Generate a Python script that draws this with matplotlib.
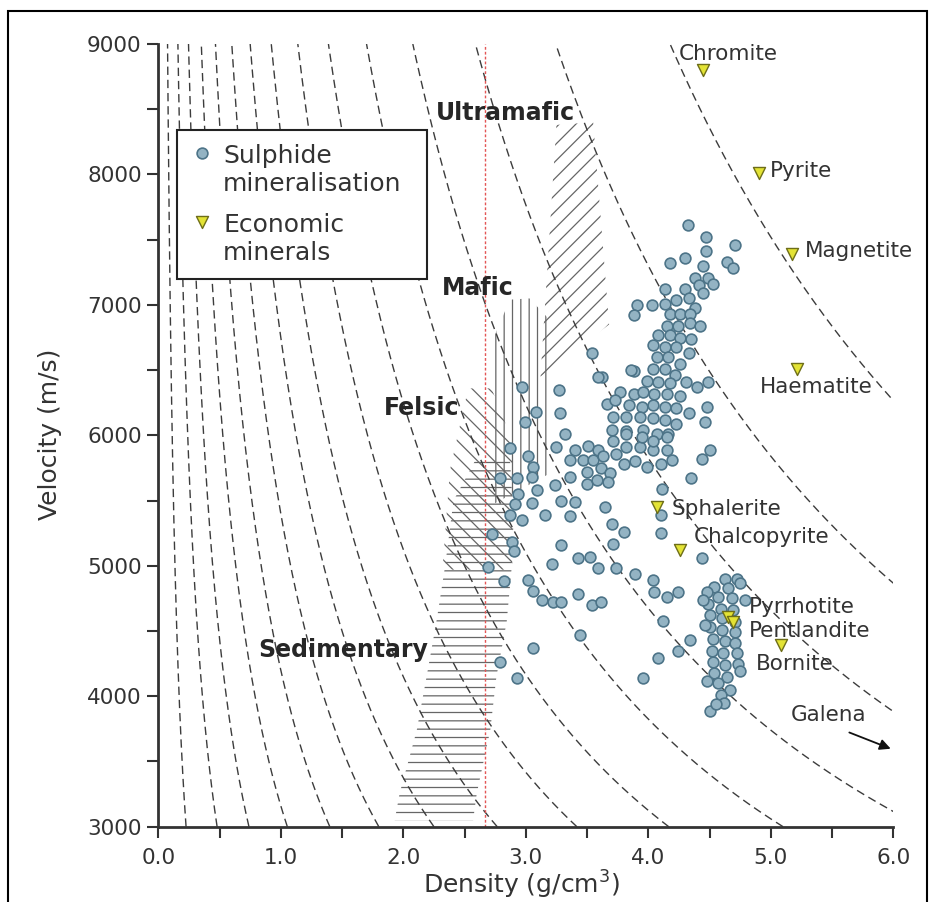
import numpy as np
import matplotlib
matplotlib.use('Agg')
import matplotlib.pyplot as plt
from matplotlib.patches import Polygon, Rectangle
from matplotlib.collections import PathCollection
from matplotlib.legend_handler import HandlerPathCollection

# constant acoustic impedance contours (g/cm3 * km/s)
impedance_levels = [0.68, 1.44, 2.22, 3.16, 4.2, 5.4, 6.75, 8.3, 10.25,
                    12.5, 15.3, 18.7, 23.3, 29.2, 37.6]
crust_density = 2.67

# rock fields (density g/cm3, velocity m/s)
ultramafic_rho = [3.25, 3.55, 3.68, 3.12]
ultramafic_vel = [8380, 8400, 6850, 6450]
mafic_rho = [2.73, 2.87, 3.03, 3.20, 3.20, 2.73]
mafic_vel = [6730, 7040, 7050, 6880, 5710, 5470]
felsic_rho = [2.53, 2.72, 2.89, 2.89, 2.32, 2.38]
felsic_vel = [6360, 6360, 5960, 4970, 4970, 5730]
sedimentary_rho = [2.60, 2.87, 2.90, 2.885, 2.844, 2.76, 2.71, 2.60, 2.57,
                   1.93, 1.97, 2.11, 2.19, 2.27, 2.34, 2.41]
sedimentary_vel = [5830, 5830, 5350, 4990, 4570, 4150, 3740, 3256, 3050,
                   3050, 3256, 3740, 4150, 4570, 4990, 5500]

# sulphide mineralisation samples
sulphide_rho = [
    4.32, 4.47, 4.71, 4.18, 4.30, 4.47, 4.45, 4.64, 4.69, 4.38, 4.49, 4.53, 4.14, 4.30,
    4.41, 4.45, 3.91, 4.03, 3.88, 4.14, 4.23, 4.33, 4.38, 4.18, 4.26, 4.34, 4.15, 4.24,
    4.34, 4.42, 4.08, 4.18, 4.26, 4.35, 4.04, 4.14, 4.23, 4.33, 4.07, 4.16, 4.26, 3.88,
    4.04, 4.14, 4.22, 3.99, 4.08, 4.18, 4.31, 4.40, 4.49, 3.62, 3.77, 3.88, 3.96, 4.05,
    4.15, 4.26, 3.66, 3.73, 3.84, 3.95, 4.04, 4.14, 4.23, 4.33, 4.48, 4.46, 4.23, 3.71,
    3.82, 3.93, 4.04, 4.14, 3.70, 3.82, 3.96, 4.07, 4.16,
    2.97, 3.27, 3.08, 2.99, 3.28, 3.32, 2.87, 3.02, 3.06, 3.25, 3.40, 3.51, 3.59, 3.36,
    3.47, 3.55, 3.63, 3.74, 3.82, 3.93, 4.04, 4.15, 3.71, 3.82, 3.95, 4.04, 4.15, 3.80,
    3.89, 3.99, 4.10, 4.19, 4.44, 4.50, 4.35, 4.11, 2.79, 2.93, 3.05, 3.09, 2.94, 3.24,
    3.36, 3.50, 3.61, 3.69, 3.50, 3.58, 3.67, 3.29, 3.40, 3.65, 2.91, 3.05, 3.16, 2.87,
    2.97, 3.36, 3.70, 3.80, 4.10, 4.10, 2.72, 2.89, 2.90, 3.29, 3.71, 3.43, 3.52, 3.59,
    3.21, 3.74, 3.89, 4.44, 2.82, 3.02, 3.06, 3.13, 3.22, 3.29, 3.43, 3.54, 3.61, 4.04,
    4.05, 4.15, 4.24, 4.12,
    2.69, 3.06, 2.79, 2.93, 3.44, 3.59, 3.54, 3.86, 4.08, 3.96, 4.24, 4.34,
    4.63, 4.72, 4.54, 4.65, 4.75, 4.48, 4.57, 4.68, 4.49, 4.59, 4.69, 4.50, 4.60, 4.71,
    4.50, 4.60, 4.71, 4.53, 4.63, 4.71, 4.52, 4.61, 4.72, 4.53, 4.63, 4.73, 4.54, 4.64,
    4.75, 4.48, 4.57, 4.67, 4.59, 4.62, 4.50, 4.55, 4.45, 4.46, 4.79]
sulphide_vel = [
    7610, 7520, 7460, 7320, 7360, 7410, 7300, 7330, 7280, 7210, 7210, 7160, 7120, 7120,
    7150, 7090, 7000, 7000, 6920, 7010, 7040, 7050, 6980, 6930, 6930, 6930, 6840, 6840,
    6860, 6840, 6770, 6770, 6750, 6740, 6690, 6680, 6680, 6630, 6600, 6600, 6550, 6490,
    6510, 6510, 6460, 6420, 6410, 6400, 6410, 6370, 6410, 6450, 6330, 6320, 6330, 6320,
    6320, 6300, 6240, 6270, 6230, 6220, 6230, 6220, 6210, 6170, 6220, 6100, 6090, 6140,
    6140, 6140, 6130, 6120, 6040, 6030, 6040, 6010, 6010,
    6370, 6350, 6180, 6100, 6170, 6010, 5900, 5840, 5760, 5910, 5890, 5920, 5890, 5810,
    5810, 5810, 5840, 5860, 5910, 5910, 5890, 5890, 5960, 6010, 5990, 5960, 5990, 5780,
    5800, 5760, 5780, 5810, 5820, 5890, 5670, 5590, 5670, 5670, 5680, 5580, 5550, 5620,
    5680, 5720, 5750, 5710, 5630, 5660, 5640, 5500, 5490, 5450, 5470, 5480, 5390, 5390,
    5350, 5380, 5320, 5260, 5390, 5250, 5240, 5180, 5110, 5160, 5170, 5060, 5070, 4980,
    5010, 4980, 4940, 5060, 4880, 4890, 4810, 4740, 4720, 4720, 4780, 4700, 4720, 4890,
    4800, 4760, 4800, 4580,
    4990, 4370, 4260, 4140, 4470, 6450, 6630, 6500, 4290, 4140, 4350, 4430,
    4900, 4900, 4840, 4830, 4870, 4800, 4760, 4750, 4710, 4670, 4660, 4620, 4600, 4570,
    4530, 4510, 4490, 4440, 4420, 4410, 4350, 4330, 4330, 4260, 4240, 4250, 4180, 4150,
    4190, 4120, 4100, 4050, 4010, 3950, 3890, 3940, 4740, 4550, 4740]

# economic minerals
mineral_names = ['Chromite', 'Pyrite', 'Magnetite', 'Haematite', 'Sphalerite',
                 'Chalcopyrite', 'Pyrrhotite', 'Pentlandite', 'Bornite']
mineral_rho = [4.45, 4.90, 5.17, 5.21, 4.07, 4.26, 4.65, 4.69, 5.08]
mineral_vel = [8800, 8010, 7390, 6510, 5450, 5120, 4610, 4570, 4390]

# label anchors (data coords) and horizontal alignment
mineral_label_pos = {
    'Chromite': (4.25, 8875, 'left'), 'Pyrite': (4.99, 7980, 'left'),
    'Magnetite': (5.28, 7366, 'left'), 'Haematite': (5.37, 6321, 'center'),
    'Sphalerite': (4.19, 5389, 'left'), 'Chalcopyrite': (4.37, 5171, 'left'),
    'Pyrrhotite': (4.82, 4635, 'left'), 'Pentlandite': (4.82, 4456, 'left'),
    'Bornite': (4.88, 4201, 'left')}
rock_label_pos = {'Ultramafic': (2.83, 8415), 'Mafic': (2.61, 7075),
                  'Felsic': (2.15, 6156), 'Sedimentary': (1.51, 4300)}

W, H = 935, 902
fig = plt.figure(figsize=(W / 100, H / 100), dpi=100)
ax = fig.add_axes([158.3 / W, 1 - 826.7 / H, 735 / W, 782.7 / H])
plt.rcParams['hatch.linewidth'] = 0.9

dark = '#333333'

# impedance curves
vel = np.linspace(3000, 9000, 400)
for z in impedance_levels:
    ax.plot(z * 1000 / vel, vel, color='#3c3c3c', lw=1.0,
            linestyle=(0, (6, 3.5)), zorder=2)

ax.axvline(crust_density, color='#e35555', lw=1.0, linestyle=(0, (2, 1.5)), zorder=2)

# rock type fields
fields = [(ultramafic_rho, ultramafic_vel, '//'),
          (mafic_rho, mafic_vel, '||'),
          (felsic_rho, felsic_vel, '\\\\'),
          (sedimentary_rho, sedimentary_vel, '--')]
for rr, vv, hatch in fields:
    poly = Polygon(np.column_stack([rr, vv]), closed=True, facecolor='none',
                   edgecolor='#666666', linewidth=0, hatch=hatch, zorder=1)
    ax.add_patch(poly)

for name, (x, y) in rock_label_pos.items():
    ax.text(x, y, name, fontsize=17, fontweight='bold', color='#262626',
            ha='center', va='baseline', zorder=5)

sulph = ax.scatter(sulphide_rho, sulphide_vel, s=60, facecolor='#93b3c3',
                   edgecolor='#4d7488', linewidth=1.2, zorder=3,
                   label='Sulphide\nmineralisation')
econ = ax.scatter(mineral_rho, mineral_vel, s=75, marker='v', facecolor='#e3e335',
                  edgecolor='#6e6e18', linewidth=1.0, zorder=4,
                  label='Economic\nminerals')

for name in mineral_names:
    x, y, ha = mineral_label_pos[name]
    ax.text(x, y, name, fontsize=15.5, color=dark, ha=ha, va='baseline', zorder=5)

# galena lies off the chart
ax.text(5.16, 3810, 'Galena', fontsize=15.5, color=dark, ha='left', va='baseline')
ax.annotate('', xy=(6.0, 3590), xytext=(5.62, 3730),
            arrowprops=dict(arrowstyle='-|>', color='#111111', lw=1.3,
                            mutation_scale=16), annotation_clip=False)

ax.set_xlim(0, 6)
ax.set_ylim(3000, 9000)
ax.set_xticks(np.arange(0, 6.01, 1.0))
ax.set_xticklabels([f'{t:.1f}' for t in np.arange(0, 6.01, 1.0)])
ax.set_xticks(np.arange(0.5, 6, 1.0), minor=True)
ax.set_yticks(range(3000, 9001, 1000))
ax.set_yticks(range(3500, 9000, 1000), minor=True)
ax.tick_params(which='both', direction='out', length=8, width=1.5, color=dark,
               labelsize=15.5, labelcolor=dark)
ax.tick_params(axis='x', pad=7.5)
ax.tick_params(axis='y', pad=4)
for side in ['top', 'right']:
    ax.spines[side].set_visible(False)
for side in ['left', 'bottom']:
    ax.spines[side].set_linewidth(2)
    ax.spines[side].set_color(dark)

ax.set_xlabel('Density (g/cm$^3$)', fontsize=18, color=dark, va='center')
ax.xaxis.set_label_coords(0.494, -0.0745)
ax.set_ylabel('Velocity (m/s)', fontsize=18, color=dark, va='center')
ax.yaxis.set_label_coords(-0.147, 0.501)

leg = ax.legend(handles=[sulph, econ], loc='upper left',
                bbox_to_anchor=(177 / W, 1 - 303 / H, 250 / W, 173 / H),
                bbox_transform=fig.transFigure, mode='expand', borderaxespad=0,
                fontsize=18, frameon=True, fancybox=False, edgecolor='#222222',
                framealpha=1, borderpad=0.55, handlelength=0.9, handletextpad=0.39,
                labelspacing=0.7, scatterpoints=1,
                handler_map={PathCollection: HandlerPathCollection(yoffsets=[1.5])})
leg.get_frame().set_linewidth(1.5)
for t in leg.get_texts():
    t.set_color(dark)

# outer frame of the figure
fig.add_artist(Rectangle((8 / W, -0.05), 919 / W, 1.05 - 11 / H, transform=fig.transFigure,
                         fill=False, edgecolor='black', lw=1.5))

fig.savefig('out.png', dpi=100)
